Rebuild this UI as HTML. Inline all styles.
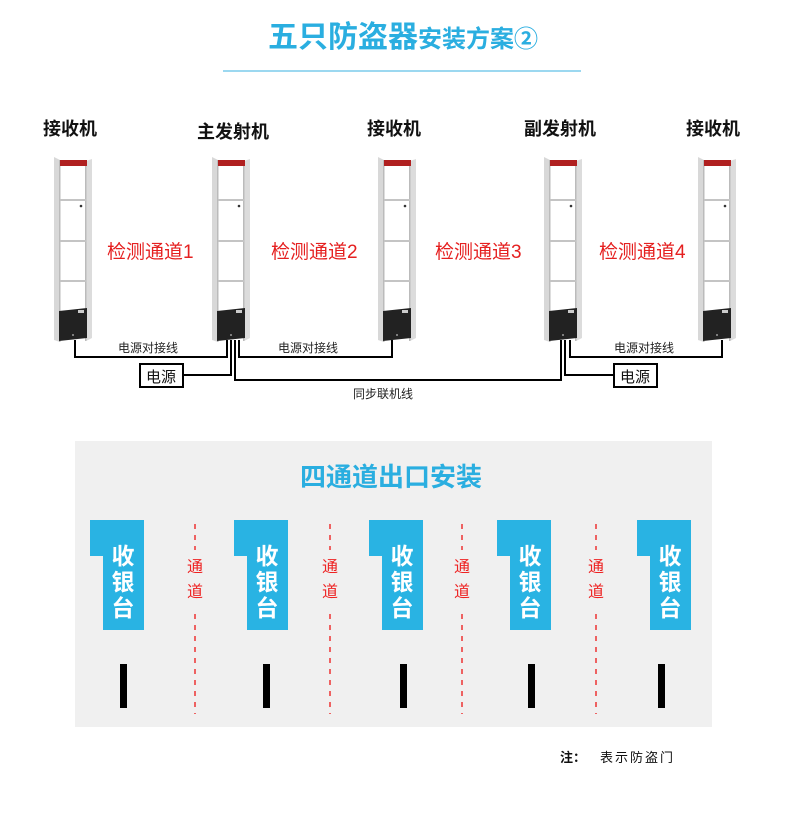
<!DOCTYPE html>
<html><head><meta charset="utf-8"><style>
body{margin:0;background:#fff;}
svg{display:block;font-family:"Liberation Sans","Noto Sans CJK SC",sans-serif;}
</style></head><body>
<svg width="790" height="823" viewBox="0 0 790 823" xmlns="http://www.w3.org/2000/svg">
<defs>
<g id="gate">
  <polygon points="0,0 6,3 6,185 0,183" fill="#d8d8d8"/>
  <rect x="5" y="3" width="1.5" height="182" fill="#bbb"/>
  <polygon points="32,4 38,2 38,181 32,184" fill="#dcdcdc"/>
  <rect x="31" y="4" width="1.5" height="180" fill="#bbb"/>
  <rect x="6" y="3" width="27" height="6" fill="#b02020"/>
  <rect x="6" y="42" width="26" height="2" fill="#c4c4c4"/>
  <rect x="6" y="83" width="26" height="2" fill="#c4c4c4"/>
  <rect x="6" y="123" width="26" height="2" fill="#c4c4c4"/>
  <circle cx="27" cy="49" r="1.3" fill="#333"/>
  <polygon points="5,154 33,151 33,181 5,184" fill="#222"/>
  <rect x="24" y="153" width="6" height="3" fill="#ccc"/>
  <circle cx="19" cy="178" r="1" fill="#999"/>
</g>
<g id="ctr">
  <polygon points="0,0 54,0 54,110 13,110 13,36 0,36" fill="#29b3e3"/>
  <text x="33" y="44" font-size="23" font-weight="bold" fill="#fff" text-anchor="middle">收</text>
  <text x="33" y="70" font-size="23" font-weight="bold" fill="#fff" text-anchor="middle">银</text>
  <text x="33" y="96" font-size="23" font-weight="bold" fill="#fff" text-anchor="middle">台</text>
</g>
<g id="lane">
  <line x1="0" y1="524" x2="0" y2="550" stroke="#e33" stroke-width="1.5" stroke-dasharray="5,6"/>
  <line x1="0" y1="614" x2="0" y2="714" stroke="#e33" stroke-width="1.5" stroke-dasharray="5,6"/>
  <text x="0" y="572" font-size="16" fill="#e22" text-anchor="middle">通</text>
  <text x="0" y="597" font-size="16" fill="#e22" text-anchor="middle">道</text>
</g>
</defs>

<text x="268" y="47" font-size="30" font-weight="bold" fill="#2aaee0">五只防盗器<tspan font-size="24">安装方案②</tspan></text>
<line x1="223" y1="71" x2="581" y2="71" stroke="#3ab0e0" stroke-width="1"/>

<g font-size="18" font-weight="bold" fill="#111">
<text x="43" y="135">接收机</text>
<text x="197" y="138">主发射机</text>
<text x="367" y="135">接收机</text>
<text x="524" y="135">副发射机</text>
<text x="686" y="135">接收机</text>
</g>

<use href="#gate" x="54" y="157"/>
<use href="#gate" x="212" y="157"/>
<use href="#gate" x="378" y="157"/>
<use href="#gate" x="544" y="157"/>
<use href="#gate" x="698" y="157"/>

<g font-size="19" fill="#e52020">
<text x="107" y="258">检测通道1</text>
<text x="271" y="258">检测通道2</text>
<text x="435" y="258">检测通道3</text>
<text x="599" y="258">检测通道4</text>
</g>

<g fill="none" stroke="#000" stroke-width="2">
<polyline points="75,340 75,357 227,357 227,340"/>
<polyline points="183,375 231,375 231,340"/>
<polyline points="235,340 235,380 561,380 561,340"/>
<polyline points="239,340 239,357 392,357 392,340"/>
<polyline points="565,340 565,375 614,375"/>
<polyline points="570,340 570,357 722,357 722,340"/>
<rect x="140" y="364" width="43" height="23"/>
<rect x="614" y="364" width="43" height="23"/>
</g>
<g font-size="12" fill="#222">
<text x="118" y="352">电源对接线</text>
<text x="278" y="352">电源对接线</text>
<text x="614" y="352">电源对接线</text>
<text x="353" y="398">同步联机线</text>
</g>
<g font-size="15" fill="#111">
<text x="146" y="382">电源</text>
<text x="620" y="382">电源</text>
</g>

<rect x="75" y="441" width="637" height="286" fill="#f0f0f0"/>
<text x="300" y="486" font-size="26" font-weight="bold" fill="#2aaee0">四通道出口安装</text>

<use href="#ctr" x="90" y="520"/>
<use href="#ctr" x="234" y="520"/>
<use href="#ctr" x="369" y="520"/>
<use href="#ctr" x="497" y="520"/>
<use href="#ctr" x="637" y="520"/>

<use href="#lane" x="195" y="0"/>
<use href="#lane" x="330" y="0"/>
<use href="#lane" x="462" y="0"/>
<use href="#lane" x="596" y="0"/>

<g fill="#000">
<rect x="120" y="664" width="7" height="44"/>
<rect x="263" y="664" width="7" height="44"/>
<rect x="400" y="664" width="7" height="44"/>
<rect x="528" y="664" width="7" height="44"/>
<rect x="658" y="664" width="7" height="44"/>
</g>

<text x="560" y="762" font-size="13" fill="#111"><tspan font-weight="bold">注：</tspan><tspan x="600" letter-spacing="2">表示防盗门</tspan></text>
</svg>
</body></html>
